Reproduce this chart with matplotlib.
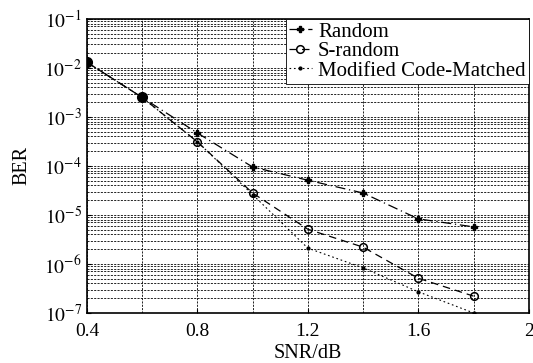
import numpy as np
import matplotlib
matplotlib.use('Agg')
import matplotlib.pyplot as plt
from matplotlib.ticker import LogLocator, FixedLocator, FuncFormatter, NullFormatter

plt.rcParams['font.family'] = ['Liberation Serif', 'DejaVu Serif']
plt.rcParams['mathtext.fontset'] = 'stix'

snr = [0.4, 0.6, 0.8, 1.0, 1.2, 1.4, 1.6, 1.8]
ber_random = [1.3e-2, 2.5e-3, 4.7e-4, 9.5e-5, 5.1e-5, 2.8e-5, 8.3e-6, 5.7e-6]
ber_srandom = [1.3e-2, 2.5e-3, 3.1e-4, 2.8e-5, 5.1e-6, 2.2e-6, 5.1e-7, 2.2e-7]
ber_modified = [1.3e-2, 2.5e-3, 3.1e-4, 2.6e-5, 2.1e-6, 8.3e-7, 2.7e-7, 1.0e-7]

xticks = [0.4, 0.8, 1.2, 1.6, 2.0]
xtick_labels = ['0.4', '0.8', '1.2', '1.6', '2']
xminor = [0.6, 1.0, 1.4, 1.8]

fig = plt.figure(figsize=(5.33, 3.63), dpi=100)
ax = fig.add_axes([0.163, 0.138, 0.829, 0.810])

ax.semilogy(snr, ber_random, color='black', linestyle=(0, (8, 3, 1, 3)), linewidth=0.9,
            marker='P', markersize=5, label='Random')
ax.semilogy(snr, ber_srandom, color='black', linestyle=(0, (6, 4)), linewidth=0.9,
            marker='o', markersize=5.5, markerfacecolor='none', markeredgewidth=1.1, label='S-random')
ax.semilogy(snr, ber_modified, color='black', linestyle=(0, (1.5, 2.5)), linewidth=0.8,
            marker='.', markersize=4, label='Modified Code-Matched')
# the first two points overlap into a filled blob
ax.plot(snr[:2], ber_random[:2], 'o', color='black', markersize=7)

ax.set_xlim(0.4, 2.0)
ax.set_ylim(1e-7, 1e-1)
ax.set_xticks(xticks)
ax.set_xticklabels(xtick_labels)
ax.xaxis.set_minor_locator(FixedLocator(xminor))
ax.xaxis.set_minor_formatter(NullFormatter())
ax.yaxis.set_major_locator(LogLocator(base=10, numticks=10))
ax.yaxis.set_minor_locator(LogLocator(base=10, subs=np.arange(2, 10), numticks=10))
ax.yaxis.set_minor_formatter(NullFormatter())
ax.yaxis.set_major_formatter(FuncFormatter(lambda v, p: r'$10^{%d}$' % round(np.log10(v))))

ax.grid(True, which='both', color='black', linestyle=(0, (2.5, 1.5)), linewidth=0.6)
ax.tick_params(which='both', direction='in', labelsize=14)
ax.tick_params(axis='x', pad=7)
ax.tick_params(which='minor', length=0)
ax.tick_params(which='major', length=3)
for s in ax.spines.values():
    s.set_linewidth(1.2)

ax.set_xlabel('SNR/dB', fontsize=14.5, labelpad=3)
ax.set_ylabel('BER', fontsize=14.5, labelpad=9)

leg = ax.legend(loc='upper right', fontsize=15, frameon=True, fancybox=False,
                edgecolor='black', framealpha=1, borderaxespad=0, handlelength=1.1,
                handletextpad=0.3, labelspacing=0.0, borderpad=0.15)
leg.get_frame().set_linewidth(0.6)

fig.savefig('out.png', dpi=100)
